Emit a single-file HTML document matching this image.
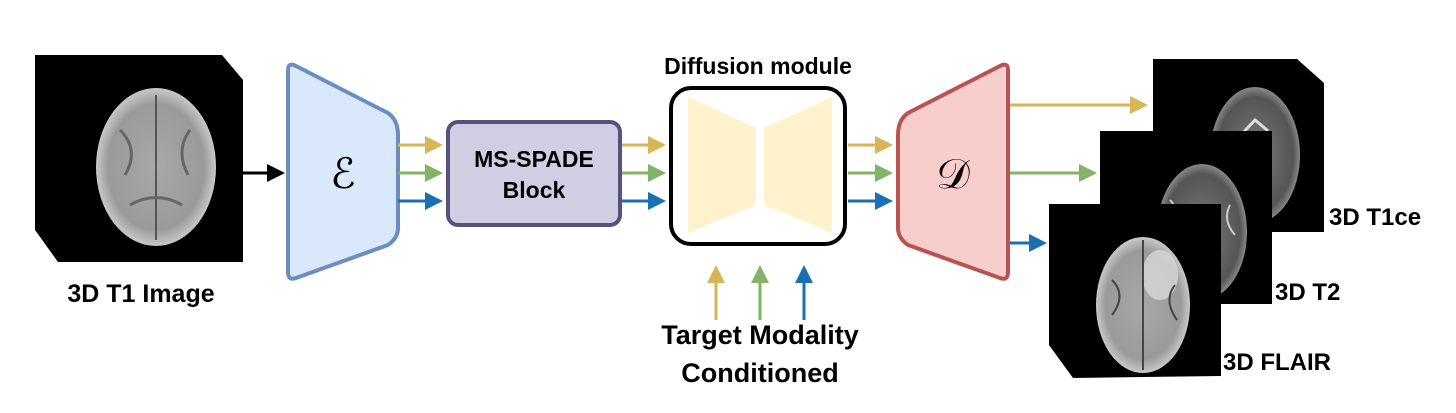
<!DOCTYPE html>
<html><head><meta charset="utf-8"><style>
html,body{margin:0;padding:0;background:#fff;}
svg{display:block;}
text{font-family:"Liberation Sans",sans-serif;font-weight:bold;fill:#000;}
</style></head><body>
<svg width="1456" height="413" viewBox="0 0 1456 413" xmlns="http://www.w3.org/2000/svg">
<defs>
<radialGradient id="br" cx="50%" cy="50%" r="50%">
<stop offset="0" stop-color="#a8a8a8"/><stop offset="0.8" stop-color="#9a9a9a"/><stop offset="1" stop-color="#c8c8c8"/>
</radialGradient>
<radialGradient id="brd" cx="50%" cy="50%" r="50%">
<stop offset="0" stop-color="#7a7a7a"/><stop offset="0.85" stop-color="#555"/><stop offset="1" stop-color="#888"/>
</radialGradient>
<marker id="ay" markerWidth="6" markerHeight="6" refX="5" refY="3" orient="auto" markerUnits="strokeWidth"><path d="M0,0L6,3L0,6z" fill="#d6b656"/></marker>
<marker id="ag" markerWidth="6" markerHeight="6" refX="5" refY="3" orient="auto" markerUnits="strokeWidth"><path d="M0,0L6,3L0,6z" fill="#82b366"/></marker>
<marker id="ab" markerWidth="6" markerHeight="6" refX="5" refY="3" orient="auto" markerUnits="strokeWidth"><path d="M0,0L6,3L0,6z" fill="#1a6fb5"/></marker>
<marker id="ak" markerWidth="6" markerHeight="6" refX="5" refY="3" orient="auto" markerUnits="strokeWidth"><path d="M0,0L6,3L0,6z" fill="#000"/></marker>
</defs>

<polygon points="35,55 222,55 243,80 243,262 58,262 35,230" fill="#000"/>
<ellipse cx="156" cy="167" rx="60" ry="79" fill="url(#br)"/>
<path d="M156,95 L156,240" stroke="#555" stroke-width="2"/>
<path d="M120,130 Q140,150 125,175 M190,130 Q175,150 188,175 M130,205 Q156,190 182,205" stroke="#666" stroke-width="3" fill="none"/>
<line x1="243" y1="173" x2="282" y2="173" stroke="#000" stroke-width="3" marker-end="url(#ak)"/>
<text x="141" y="302" font-size="25" text-anchor="middle">3D T1 Image</text>

<path d="M288,70 Q288,62 296,66 L388,113 Q398,120 398,135 L398,228 Q398,238 388,245 L296,278 Q288,281 288,272 Z" fill="#dae8fc" stroke="#6c8ebf" stroke-width="4"/>
<text x="343" y="188" font-size="42" text-anchor="middle" style="font-family:'Liberation Serif',serif;font-weight:normal">ℰ</text>

<g stroke-width="3">
<line x1="398" y1="145" x2="440" y2="145" stroke="#d6b656" marker-end="url(#ay)"/>
<line x1="398" y1="173" x2="440" y2="173" stroke="#82b366" marker-end="url(#ag)"/>
<line x1="398" y1="201" x2="440" y2="201" stroke="#1a6fb5" marker-end="url(#ab)"/>
<line x1="620" y1="145" x2="663" y2="145" stroke="#d6b656" marker-end="url(#ay)"/>
<line x1="620" y1="173" x2="663" y2="173" stroke="#82b366" marker-end="url(#ag)"/>
<line x1="620" y1="201" x2="663" y2="201" stroke="#1a6fb5" marker-end="url(#ab)"/>
<line x1="848" y1="145" x2="890" y2="145" stroke="#d6b656" marker-end="url(#ay)"/>
<line x1="848" y1="173" x2="890" y2="173" stroke="#82b366" marker-end="url(#ag)"/>
<line x1="848" y1="201" x2="890" y2="201" stroke="#1a6fb5" marker-end="url(#ab)"/>
<line x1="1010" y1="105" x2="1145" y2="105" stroke="#d6b656" marker-end="url(#ay)"/>
<line x1="1010" y1="173" x2="1094" y2="173" stroke="#82b366" marker-end="url(#ag)"/>
<line x1="1010" y1="243" x2="1044" y2="243" stroke="#1a6fb5" marker-end="url(#ab)"/>
<line x1="716" y1="320" x2="716" y2="268" stroke="#d6b656" marker-end="url(#ay)"/>
<line x1="760" y1="320" x2="760" y2="268" stroke="#82b366" marker-end="url(#ag)"/>
<line x1="804" y1="320" x2="804" y2="268" stroke="#1a6fb5" marker-end="url(#ab)"/>
</g>

<rect x="448" y="122" width="172" height="103" rx="10" fill="#d0cee2" stroke="#56517e" stroke-width="4"/>
<text x="534" y="167" font-size="23" text-anchor="middle">MS-SPADE</text>
<text x="534" y="198" font-size="23" text-anchor="middle">Block</text>

<text x="758" y="74" font-size="23" text-anchor="middle">Diffusion module</text>
<rect x="671" y="88" width="174" height="156" rx="20" fill="#fff" stroke="#000" stroke-width="4"/>
<polygon points="688,97 756,128 756,205 688,233" fill="#fff2cc"/>
<polygon points="764,128 832,97 832,233 764,205" fill="#fff2cc"/>
<text x="760" y="344" font-size="27" text-anchor="middle">Target Modality</text>
<text x="760" y="382" font-size="27" text-anchor="middle">Conditioned</text>

<path d="M1008,70 Q1008,62 1000,66 L908,113 Q898,120 898,135 L898,228 Q898,238 908,245 L1000,278 Q1008,281 1008,272 Z" fill="#f8cecc" stroke="#b85450" stroke-width="4"/>
<text x="953" y="188" font-size="42" text-anchor="middle" style="font-family:'Liberation Serif',serif;font-weight:normal">𝒟</text>

<polygon points="1153,59 1297,59 1324,83 1324,232 1153,232" fill="#000"/>
<ellipse cx="1255" cy="155" rx="45" ry="68" fill="url(#brd)"/>
<path d="M1255,120 l12,10 l-5,20 l-15,5 l-8,-18z" fill="none" stroke="#ddd" stroke-width="3"/>
<polygon points="1100,131 1272,131 1272,304 1100,304" fill="#000"/>
<ellipse cx="1202" cy="232" rx="45" ry="68" fill="url(#brd)"/>
<path d="M1170,200 q10,10 0,25 M1230,205 q-8,15 5,30" stroke="#ccc" stroke-width="2" fill="none"/>
<polygon points="1049,204 1221,204 1221,376 1073,378 1049,345" fill="#000"/>
<ellipse cx="1143" cy="305" rx="47" ry="68" fill="url(#br)"/>
<ellipse cx="1160" cy="275" rx="18" ry="25" fill="#d8d8d8" opacity="0.8"/>
<path d="M1143,240 L1143,370 M1112,280 q15,15 0,35 M1175,285 q-12,15 2,35" stroke="#444" stroke-width="2" fill="none"/>
<text x="1329" y="225" font-size="24">3D T1ce</text>
<text x="1275" y="300" font-size="24">3D T2</text>
<text x="1223" y="370" font-size="24">3D FLAIR</text>
</svg>
</body></html>
